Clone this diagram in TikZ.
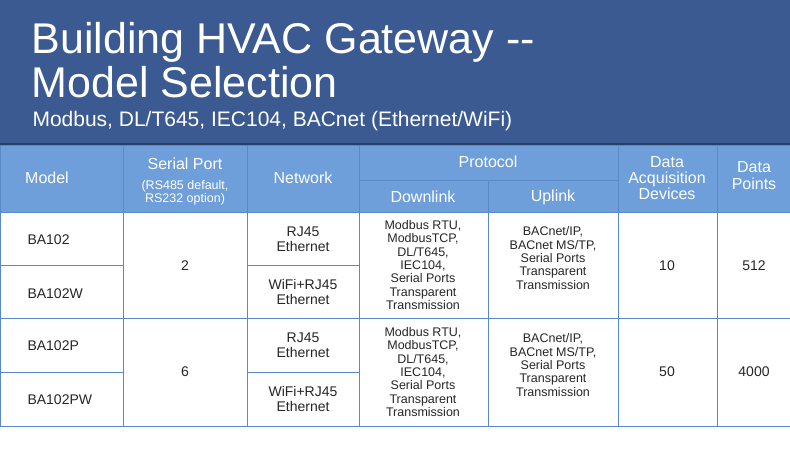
\documentclass[tikz,border=0pt]{standalone}
\usepackage{fontspec}
\setmainfont{Liberation Sans}
\begin{document}
\begin{tikzpicture}[x=1pt,y=-1pt,
  hd/.style={text=white,align=center,font=\fontsize{16}{17}\selectfont},
  bd/.style={text=black!85,align=center,font=\fontsize{14}{14.5}\selectfont},
  sm/.style={text=black!85,align=center,font=\fontsize{12.5}{13.4}\selectfont},
  grid/.style={draw=tblue,line width=0.8pt}]
\definecolor{band}{HTML}{3B5A92}
\definecolor{hblue}{HTML}{6E9FDB}
\definecolor{tblue}{HTML}{5A88C8}
\useasboundingbox (0,0) rectangle (790,459);
\fill[white] (0,0) rectangle (790,459);
\fill[band] (0,0) rectangle (790,143);
\fill[hblue] (0,145) rectangle (790,212);
\draw[band!70!black,line width=1.5pt] (0,144) -- (790,144);
\node[anchor=west,text=white,font=\fontsize{43}{45}\selectfont,align=left] (t1) at (28,42) {Building HVAC Gateway {-}{-}};
\node[anchor=west,text=white,font=\fontsize{43}{45}\selectfont,align=left] (t2) at (28,82) {Model Selection};
\node[anchor=west,text=white,font=\fontsize{21}{22}\selectfont] (t3) at (29,121) {Modbus, DL/T645, IEC104, BACnet (Ethernet/WiFi)};
% grid
\draw[grid] (0,145) rectangle (790,426);
\foreach \x in {123,247,359,618,717} \draw[grid] (\x,145) -- (\x,426);
\draw[grid] (488,180) -- (488,426);
\draw[grid] (359,180) -- (618,180);
\draw[grid] (0,212) -- (790,212);
\draw[grid] (0,318) -- (790,318);
\draw[grid] (0,265) -- (123,265) (247,265) -- (359,265);
\draw[grid] (0,372) -- (123,372) (247,372) -- (359,372);
% header
\node[hd] (h1) at (47,178) {Model};
\node[hd] (h2) at (185,164) {Serial Port};
\node[text=white,align=center,font=\fontsize{12.5}{12.5}\selectfont] (h2b) at (185,193) {(RS485 default,\\RS232 option)};
\node[hd] (h3) at (303,178) {Network};
\node[hd] (h4) at (488,162) {Protocol};
\node[hd] (h5) at (423,197) {Downlink};
\node[hd] (h6) at (553,197) {Uplink};
\node[hd,font=\fontsize{16}{16}\selectfont] (h7) at (667,178) {Data\\Acquisition\\Devices};
\node[hd] (h8) at (754,176) {Data\\Points};
% body
\node[bd,anchor=west] (m1) at (24,240) {BA102};
\node[bd,anchor=west] (m2) at (24,294) {BA102W};
\node[bd,anchor=west] (m3) at (24,346) {BA102P};
\node[bd,anchor=west] (m4) at (24,400) {BA102PW};
\node[bd] (s1) at (185,266) {2};
\node[bd] (s2) at (185,372) {6};
\node[bd] (n1) at (303,239) {RJ45\\Ethernet};
\node[bd] (n2) at (303,292) {WiFi+RJ45\\Ethernet};
\node[bd] (n3) at (303,345) {RJ45\\Ethernet};
\node[bd] (n4) at (303,399) {WiFi+RJ45\\Ethernet};
\node[sm] (d1) at (423,265) {Modbus RTU,\\ModbusTCP,\\DL/T645,\\IEC104,\\Serial Ports\\Transparent\\Transmission};
\node[sm] (d2) at (423,372) {Modbus RTU,\\ModbusTCP,\\DL/T645,\\IEC104,\\Serial Ports\\Transparent\\Transmission};
\node[sm] (u1) at (553,258) {BACnet/IP,\\BACnet MS/TP,\\Serial Ports\\Transparent\\Transmission};
\node[sm] (u2) at (553,365) {BACnet/IP,\\BACnet MS/TP,\\Serial Ports\\Transparent\\Transmission};
\node[bd] (a1) at (667,266) {10};
\node[bd] (a2) at (667,372) {50};
\node[bd] (p1) at (754,266) {512};
\node[bd] (p2) at (754,372) {4000};
\end{tikzpicture}
\end{document}
